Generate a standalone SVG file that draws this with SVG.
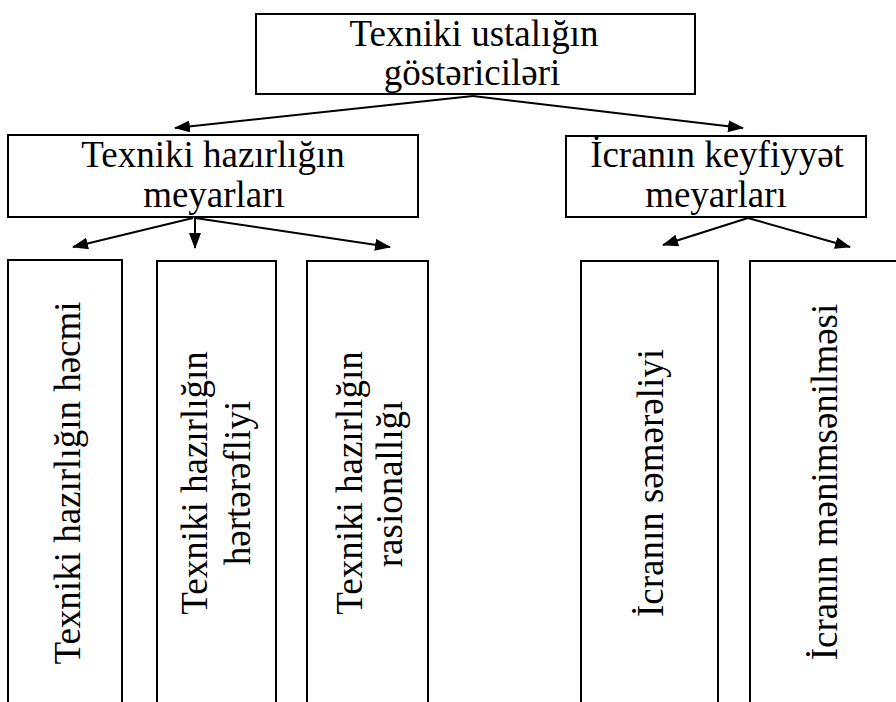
<svg xmlns="http://www.w3.org/2000/svg" width="896" height="702" viewBox="0 0 896 702">
  <style>
    .box { fill: #fff; stroke: #000; stroke-width: 2; }
    .txt { font-family: "Liberation Serif", "Times New Roman", serif; font-size: 37px; fill: #000; text-anchor: middle; }
    .link { stroke: #000; stroke-width: 2; fill: none; marker-end: url(#arrow); }
  </style>
  <defs>
    <marker id="arrow" markerUnits="userSpaceOnUse" markerWidth="16" markerHeight="12" refX="15" refY="6" orient="auto">
      <path d="M0,0 L16,6 L0,12 Z" fill="#000"/>
    </marker>
  </defs>
  <rect width="896" height="702" fill="#fff"/>

  <!-- connectors -->
  <g id="connectors">
    <line class="link" x1="473" y1="96" x2="175" y2="128"/>
    <line class="link" x1="473" y1="96" x2="743" y2="128"/>
    <line class="link" x1="193" y1="218" x2="73" y2="247"/>
    <line class="link" x1="195" y1="218" x2="195" y2="248"/>
    <line class="link" x1="195" y1="218" x2="390" y2="247"/>
    <line class="link" x1="748" y1="218" x2="663" y2="245"/>
    <line class="link" x1="748" y1="218" x2="850" y2="247"/>
  </g>

  <!-- root -->
  <g id="root">
    <rect class="box" x="256" y="14" width="439" height="80"/>
    <text class="txt" x="474" y="46">Texniki ustalığın</text>
    <text class="txt" x="472" y="85">göstəriciləri</text>
  </g>

  <!-- second level -->
  <g id="tech-criteria">
    <rect class="box" x="8" y="135" width="410" height="82"/>
    <text class="txt" x="213" y="167">Texniki hazırlığın</text>
    <text class="txt" x="214" y="207">meyarları</text>
  </g>
  <g id="exec-criteria">
    <rect class="box" x="566" y="136" width="300" height="81"/>
    <text class="txt" x="717" y="167">İcranın keyfiyyət</text>
    <text class="txt" x="716" y="207">meyarları</text>
  </g>

  <!-- third level (open at the bottom edge) -->
  <g id="volume">
    <rect class="box" x="8" y="260" width="114" height="460"/>
    <text class="txt" transform="translate(80 483) rotate(-90)">Texniki hazırlığın həcmi</text>
  </g>
  <g id="versatility">
    <rect class="box" x="157" y="261" width="119" height="460"/>
    <text class="txt" transform="translate(207 483) rotate(-90)">Texniki hazırlığın</text>
    <text class="txt" transform="translate(250 483) rotate(-90)">hərtərəfliyi</text>
  </g>
  <g id="rationality">
    <rect class="box" x="307" y="261" width="121" height="460"/>
    <text class="txt" transform="translate(362 483) rotate(-90)">Texniki hazırlığın</text>
    <text class="txt" transform="translate(402 484) rotate(-90)">rasionallığı</text>
  </g>
  <g id="effectiveness">
    <rect class="box" x="581" y="261" width="137" height="460"/>
    <text class="txt" transform="translate(663 483) rotate(-90)">İcranın səmərəliyi</text>
  </g>
  <g id="mastery">
    <rect class="box" x="750" y="261" width="160" height="460"/>
    <text class="txt" transform="translate(837 482) rotate(-90)">İcranın mənimsənilməsi</text>
  </g>
</svg>
